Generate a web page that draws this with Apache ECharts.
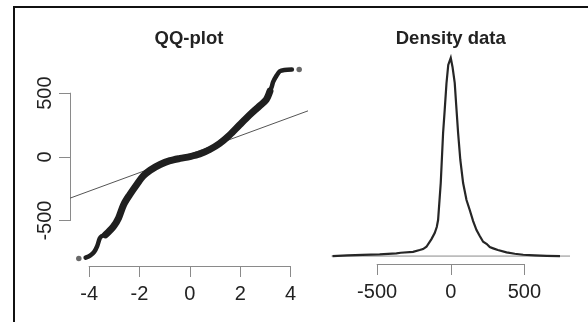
<!DOCTYPE html>
<html>
<head>
<meta charset="utf-8">
<script src="https://cdn.jsdelivr.net/npm/echarts/dist/echarts.min.js"></script>
<style>
  html, body { margin: 0; padding: 0; background: #fff; }
  #chart { width: 588px; height: 322px; }
</style>
</head>
<body>
<div id="chart"></div>
<script>
// ---- QQ-plot: theoretical normal quantiles (x) vs sample quantiles (y) ----
const qqLowerTail = [[-4.14, -790], [-3.95, -772], [-3.80, -745], [-3.68, -700], [-3.58, -640], [-3.50, -622], [-3.35, -612]];
const qqBody = [[-3.35, -612], [-3.03, -545], [-2.83, -479], [-2.63, -375], [-2.40, -300], [-2.10, -215], [-1.85, -150],
  [-1.58, -105], [-1.18, -60], [-0.79, -30], [-0.39, -12], [0, 2], [0.39, 22], [0.79, 58], [1.18, 105], [1.58, 172],
  [1.97, 250], [2.37, 328], [2.76, 398], [3.03, 448], [3.18, 515]];
const qqUpperTail = [[3.18, 515], [3.25, 550], [3.31, 590], [3.45, 640], [3.57, 672], [3.75, 682], [4.05, 685]];
const qqIsolated = [[-4.41, -797], [4.34, 685]];
const qqLine = { intercept: 21, slope: 72.5 };
const qqXTicks = [-4, -2, 0, 2, 4];
const qqYTicks = [-500, 0, 500];

// ---- Kernel density estimate (density in units of 1e-3) ----
const densX = [-803, -701, -599, -483, -369, -340, -256, -211, -188, -165, -154, -131, -109, -95, -86, -68, -52, -41,
  -29, -17, 0, 12, 27, 37, 50, 65, 84, 107, 129, 152, 175, 197, 220, 245, 265, 288, 320, 379, 435, 492, 571, 651, 742];
const densY = [0, 0.019, 0.036, 0.047, 0.075, 0.092, 0.119, 0.167, 0.194, 0.258, 0.306, 0.472, 0.639, 0.806, 1.000,
  2.028, 3.417, 4.056, 4.797, 5.306, 5.500, 5.250, 4.806, 4.194, 3.417, 2.667, 2.028, 1.556, 1.278, 0.972, 0.722,
  0.556, 0.397, 0.333, 0.250, 0.214, 0.167, 0.103, 0.064, 0.036, 0.019, 0.008, 0];
const densXTicks = [-500, 0, 500];

const FONT = '"Liberation Sans", Arial, Helvetica, sans-serif';

// Plot regions (pixel boxes) of the two panels
const qqBox = { left: 70, right: 308, top: 62, bottom: 266 };
const dnBox = { left: 331.5, right: 570, top: 50, bottom: 264 };

// Axis ranges padded by 4% like base graphics
function padRange(vals) {
  const lo = Math.min(...vals), hi = Math.max(...vals), p = (hi - lo) * 0.04;
  return [lo - p, hi + p];
}
const qqAll = qqLowerTail.concat(qqBody, qqUpperTail, qqIsolated);
const [qxMin, qxMax] = padRange(qqAll.map(d => d[0]));
const [qyMin, qyMax] = padRange(qqAll.map(d => d[1]));
const dxMin = -810, dxMax = 810;
const [dyMin, dyMax] = padRange(densY);

// pixel position of a value inside a box
const px = (v, a, b, p0, p1) => p0 + (v - a) / (b - a) * (p1 - p0);

const qqXAxisL = px(qqXTicks[0], qxMin, qxMax, qqBox.left, qqBox.right);
const qqXAxisR = px(qqXTicks[qqXTicks.length - 1], qxMin, qxMax, qqBox.left, qqBox.right);
const qqYAxisT = px(qqYTicks[qqYTicks.length - 1], qyMax, qyMin, qqBox.top, qqBox.bottom);
const qqYAxisB = px(qqYTicks[0], qyMax, qyMin, qqBox.top, qqBox.bottom);
const dnXAxisL = px(densXTicks[0], dxMin, dxMax, dnBox.left, dnBox.right);
const dnXAxisR = px(densXTicks[densXTicks.length - 1], dxMin, dxMax, dnBox.left, dnBox.right);

const gridOf = b => ({ left: b.left, top: b.top, width: b.right - b.left, height: b.bottom - b.top, containLabel: false });

const axisColor = '#8a8a8a';
const visibleAxis = (extra) => Object.assign({
  type: 'value',
  splitLine: { show: false },
  axisLine: { show: true, onZero: false, lineStyle: { color: axisColor, width: 1 } },
  axisTick: { show: true, length: 11, lineStyle: { color: axisColor, width: 1 } },
  axisLabel: { fontSize: 20, color: '#222', fontFamily: FONT, margin: 18 }
}, extra);
const hiddenAxis = (extra) => Object.assign({ type: 'value', show: false, splitLine: { show: false } }, extra);

const grids = [
  gridOf(qqBox),                                                                   // 0 QQ data
  gridOf({ left: qqXAxisL, right: qqXAxisR, top: qqBox.bottom - 10, bottom: qqBox.bottom }), // 1 QQ x axis
  gridOf({ left: qqBox.left, right: qqBox.left + 10, top: qqYAxisT, bottom: qqYAxisB }),     // 2 QQ y axis
  gridOf(dnBox),                                                                   // 3 density data
  gridOf({ left: dnXAxisL, right: dnXAxisR, top: dnBox.bottom - 10, bottom: dnBox.bottom })  // 4 density x axis
];

const xAxes = [
  hiddenAxis({ gridIndex: 0, min: qxMin, max: qxMax }),
  visibleAxis({ gridIndex: 1, min: qqXTicks[0], max: qqXTicks[qqXTicks.length - 1], interval: 2 }),
  hiddenAxis({ gridIndex: 2, min: 0, max: 1 }),
  hiddenAxis({ gridIndex: 3, min: dxMin, max: dxMax }),
  visibleAxis({ gridIndex: 4, min: densXTicks[0], max: densXTicks[densXTicks.length - 1], interval: 500 })
];
const yAxes = [
  hiddenAxis({ gridIndex: 0, min: qyMin, max: qyMax }),
  hiddenAxis({ gridIndex: 1, min: 0, max: 1 }),
  visibleAxis({ gridIndex: 2, min: qqYTicks[0], max: qqYTicks[qqYTicks.length - 1], interval: 500,
    axisLabel: { fontSize: 20, color: '#222', fontFamily: FONT, margin: 15, rotate: 90 } }),
  hiddenAxis({ gridIndex: 3, min: dyMin, max: dyMax }),
  hiddenAxis({ gridIndex: 4, min: 0, max: 1 })
];

const qqPointColor = '#1f1f1f';
const series = [
  { type: 'line', xAxisIndex: 0, yAxisIndex: 0, data: [[qxMin, qqLine.intercept + qqLine.slope * qxMin], [qxMax, qqLine.intercept + qqLine.slope * qxMax]],
    showSymbol: false, lineStyle: { color: '#555', width: 1 }, z: 2 },
  { type: 'line', xAxisIndex: 0, yAxisIndex: 0, data: qqLowerTail, smooth: 0.3, showSymbol: false,
    lineStyle: { color: qqPointColor, width: 4.5, cap: 'round', join: 'round' }, z: 3 },
  { type: 'line', xAxisIndex: 0, yAxisIndex: 0, data: qqBody, smooth: 0.3, showSymbol: false,
    lineStyle: { color: qqPointColor, width: 7, cap: 'round', join: 'round' }, z: 3 },
  { type: 'line', xAxisIndex: 0, yAxisIndex: 0, data: qqUpperTail, smooth: 0.3, showSymbol: false,
    lineStyle: { color: qqPointColor, width: 4.5, cap: 'round', join: 'round' }, z: 3 },
  { type: 'scatter', xAxisIndex: 0, yAxisIndex: 0, data: qqIsolated, symbolSize: 5.5,
    itemStyle: { color: '#444' }, z: 3 },
  { type: 'line', xAxisIndex: 3, yAxisIndex: 3, data: [[dxMin, 0], [dxMax, 0]], showSymbol: false,
    lineStyle: { color: '#8a8a8a', width: 1 }, z: 2 },
  { type: 'line', xAxisIndex: 3, yAxisIndex: 3, data: densX.map((x, i) => [x, densY[i]]), showSymbol: false,
    lineStyle: { color: '#262626', width: 2.2, join: 'miter', miterLimit: 20 }, z: 3 }
];

const chart = echarts.init(document.getElementById('chart'), null, { renderer: 'canvas' });
chart.setOption({
  animation: false,
  backgroundColor: '#fff',
  grid: grids,
  xAxis: xAxes,
  yAxis: yAxes,
  series: series,
  graphic: [
    { type: 'rect', shape: { x: 14, y: 7, width: 700, height: 500 }, style: { fill: 'none', stroke: '#111', lineWidth: 2 }, silent: true },
    { type: 'text', x: (qqBox.left + qqBox.right) / 2, y: 39,
      style: { text: 'QQ-plot', fill: '#222', font: 'bold 18.5px ' + FONT, textAlign: 'center', textVerticalAlign: 'middle' } },
    { type: 'text', x: (dnBox.left + dnBox.right) / 2, y: 39,
      style: { text: 'Density data', fill: '#222', font: 'bold 18.5px ' + FONT, textAlign: 'center', textVerticalAlign: 'middle' } }
  ]
});
</script>
</body>
</html>
